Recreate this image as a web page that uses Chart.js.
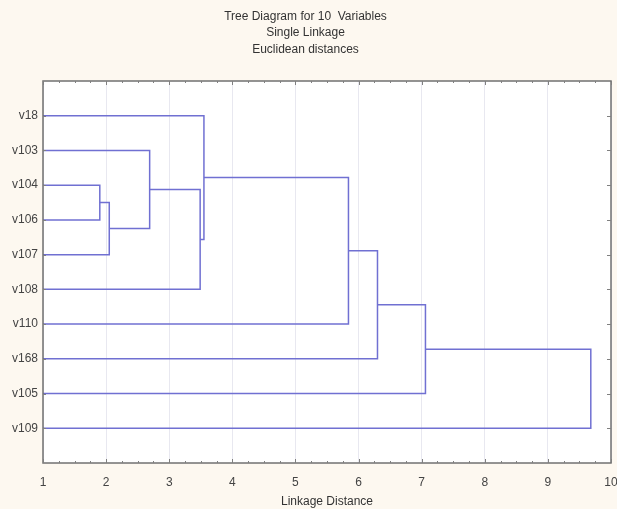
<!DOCTYPE html>
<html>
<head>
<meta charset="utf-8">
<script src="https://cdn.jsdelivr.net/npm/chart.js@4"></script>
<style>
  html, body { margin: 0; padding: 0; background: #fdf8f0; }
  #wrap { width: 617px; height: 509px; }
</style>
</head>
<body>
<div id="wrap"><canvas id="canvas" width="617" height="509"></canvas></div>
<script>
// leaves, top to bottom
const leafLabels = ['v18', 'v103', 'v104', 'v106', 'v107', 'v108', 'v110', 'v168', 'v105', 'v109'];
// each merge joins two nodes (0-9 leaves, 10+ earlier merges) at a linkage distance
const mergeLeft = [2, 10, 1, 12, 0, 14, 15, 16, 17];
const mergeRight = [3, 4, 11, 5, 13, 6, 7, 8, 9];
const mergeHeights = [1.90, 2.05, 2.69, 3.49, 3.55, 5.84, 6.30, 7.06, 9.68];
const xTicks = [1, 2, 3, 4, 5, 6, 7, 8, 9, 10];
const titleLines = ['Tree Diagram for 10  Variables', 'Single Linkage', 'Euclidean distances'];

const xMin = xTicks[0], xMax = xTicks[xTicks.length - 1];
const lineColor = 'rgb(112,112,210)';
const fontFamily = 'Arial, "Liberation Sans", sans-serif';

// node positions: leaves sit on their row, merges sit halfway between children
let nodeX = [], nodeY = [];
for (let i = 0; i < leafLabels.length; i++) {
    nodeX.push(xMin);
    nodeY.push(i + 1);
}
let datasets = [];
for (let k = 0; k < mergeHeights.length; k++) {
    let a = mergeLeft[k], b = mergeRight[k], h = mergeHeights[k];
    datasets.push({
        data: [
            {x: nodeX[a], y: nodeY[a]},
            {x: h, y: nodeY[a]},
            {x: h, y: nodeY[b]},
            {x: nodeX[b], y: nodeY[b]}
        ],
        showLine: true,
        borderColor: lineColor,
        borderWidth: 1.5,
        pointRadius: 0,
        fill: false
    });
    nodeX.push(h);
    nodeY.push((nodeY[a] + nodeY[b]) / 2);
}

// white plot area + grey frame with small inward ticks
const framePlugin = {
    id: 'frame',
    beforeDraw(chart) {
        const a = chart.chartArea, c = chart.ctx;
        c.save();
        c.fillStyle = '#ffffff';
        c.fillRect(a.left, a.top, a.right - a.left, a.bottom - a.top);
        c.restore();
    },
    afterDraw(chart) {
        const a = chart.chartArea, c = chart.ctx;
        const xs = chart.scales.x, ys = chart.scales.y;
        c.save();
        c.strokeStyle = '#707070';
        c.lineWidth = 1.5;
        c.strokeRect(a.left, a.top, a.right - a.left, a.bottom - a.top);
        c.lineWidth = 1;
        c.strokeStyle = '#808080';
        c.beginPath();
        for (let v = xMin; v <= xMax + 0.001; v += 0.25) {
            let px = Math.round(xs.getPixelForValue(v)) + 0.5;
            let len = Math.abs(v - Math.round(v)) < 0.01 ? 4 : 2;
            c.moveTo(px, a.bottom); c.lineTo(px, a.bottom - len);
            c.moveTo(px, a.top); c.lineTo(px, a.top + len);
        }
        for (let i = 1; i <= leafLabels.length; i++) {
            let py = Math.round(ys.getPixelForValue(i)) + 0.5;
            c.moveTo(a.right, py); c.lineTo(a.right - 4, py);
            c.moveTo(a.left, py); c.lineTo(a.left + 3, py);
        }
        c.stroke();
        c.restore();
    }
};

let ctx = document.getElementById('canvas').getContext('2d');

let chart = new Chart(ctx, {
    type: 'scatter',
    data: { datasets: datasets },
    options: {
        responsive: false,
        animation: false,
        layout: { padding: { left: 0, right: 6, top: 0, bottom: 0 } },
        plugins: {
            legend: { display: false },
            tooltip: { enabled: false },
            title: {
                display: true,
                text: titleLines,
                color: '#333',
                font: { family: fontFamily, size: 12, weight: 'normal', lineHeight: 1.375 },
                padding: { top: 8, bottom: 23.5 }
            }
        },
        scales: {
            x: {
                type: 'linear',
                min: xMin,
                max: xMax,
                afterBuildTicks: s => { s.ticks = xTicks.map(v => ({ value: v })); },
                afterFit: s => { s.height = 46; s.paddingLeft = 0; s.paddingRight = 0; },
                ticks: {
                    color: '#444',
                    font: { family: fontFamily, size: 12 },
                    padding: 12,
                    maxRotation: 0
                },
                grid: { color: '#e8e8f0', drawTicks: false },
                border: { display: false },
                title: {
                    display: true,
                    text: 'Linkage Distance',
                    color: '#333',
                    font: { family: fontFamily, size: 12 },
                    padding: { top: 4, bottom: 0 }
                }
            },
            y: {
                type: 'linear',
                min: 0,
                max: leafLabels.length + 1,
                reverse: true,
                afterBuildTicks: s => { s.ticks = leafLabels.map((l, i) => ({ value: i + 1 })); },
                afterFit: s => { s.width = 43; s.paddingTop = 0; s.paddingBottom = 0; },
                ticks: {
                    color: '#444',
                    font: { family: fontFamily, size: 12 },
                    padding: 5,
                    callback: v => leafLabels[v - 1] || ''
                },
                grid: { display: false, drawTicks: false },
                border: { display: false }
            }
        }
    },
    plugins: [framePlugin]
});
</script>
</body>
</html>
